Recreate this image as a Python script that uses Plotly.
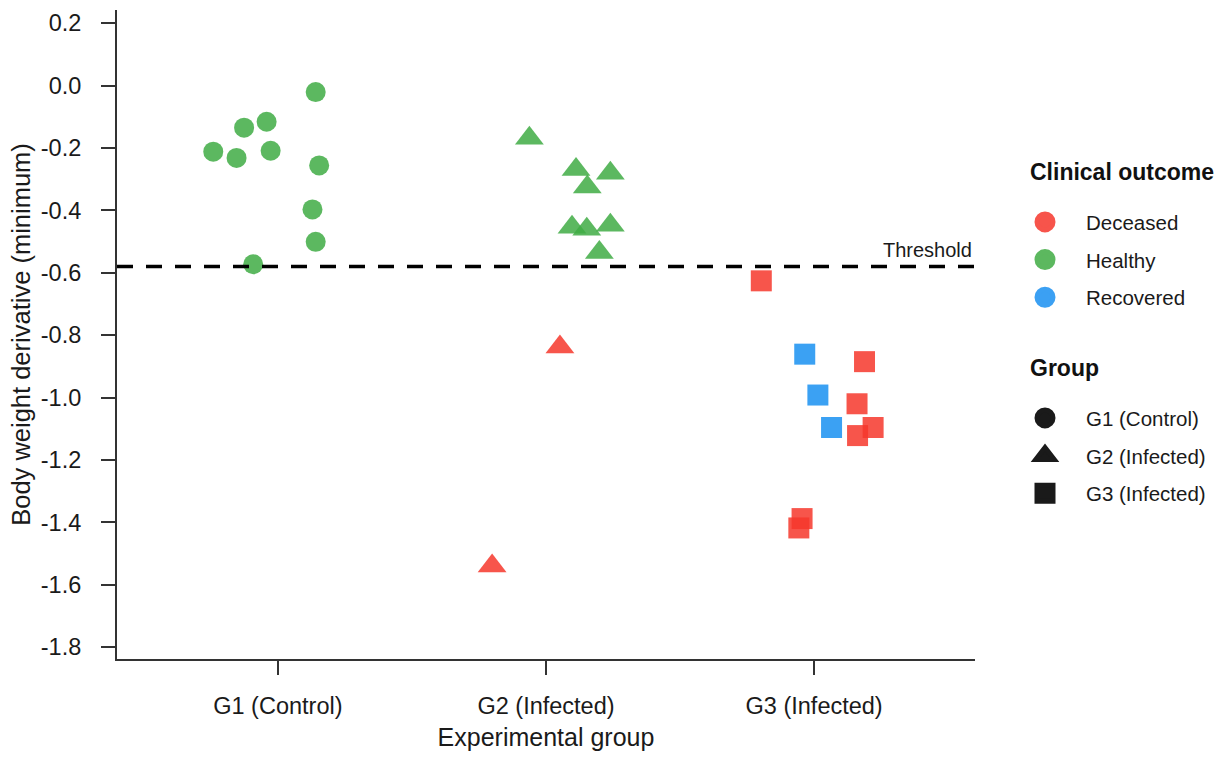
import plotly.graph_objects as go

# ---------------- data ----------------
groups = ["G1 (Control)", "G2 (Infected)", "G3 (Infected)"]
outcomes = ["Deceased", "Healthy", "Recovered"]
colors = {"Deceased": "rgb(246,55,44)", "Healthy": "rgb(64,172,68)", "Recovered": "rgb(25,144,241)"}
symbols = {"G1 (Control)": "circle", "G2 (Infected)": "triangle-up", "G3 (Infected)": "square"}

# G1 (Control)
g1_jitter = [-0.241, -0.154, -0.126, -0.042, -0.027, 0.141, 0.154, 0.129, 0.141, -0.092]
g1_value = [-0.212, -0.232, -0.135, -0.116, -0.209, -0.021, -0.256, -0.397, -0.501, -0.573]
g1_outcome = ["Healthy"] * 10

# G2 (Infected)
g2_jitter = [-0.062, 0.112, 0.154, 0.240, 0.097, 0.152, 0.240, 0.199, 0.052, -0.201]
g2_value = [-0.169, -0.269, -0.325, -0.281, -0.454, -0.461, -0.448, -0.535, -0.838, -1.540]
g2_outcome = ["Healthy"] * 8 + ["Deceased", "Deceased"]

# G3 (Infected)
g3_jitter = [-0.197, -0.035, 0.188, 0.014, 0.160, 0.065, 0.220, 0.162, -0.045, -0.057]
g3_value = [-0.626, -0.861, -0.885, -0.992, -1.020, -1.096, -1.096, -1.122, -1.388, -1.418]
g3_outcome = ["Deceased", "Recovered", "Deceased", "Recovered", "Deceased",
              "Recovered", "Deceased", "Deceased", "Deceased", "Deceased"]

threshold = -0.58

group_data = [
    (g1_jitter, g1_value, g1_outcome),
    (g2_jitter, g2_value, g2_outcome),
    (g3_jitter, g3_value, g3_outcome),
]

FONT = "Liberation Sans, Arial, sans-serif"
AXIS_COLOR = "#333333"
TEXT_COLOR = "#1a1a1a"
OPACITY = 0.85
marker_sizes = {"circle": 20, "triangle-up": 25, "square": 21}

fig = go.Figure()

for gi, (g, (jit, vals, outs)) in enumerate(zip(groups, group_data)):
    for oc in outcomes:
        xs = [gi + j for j, o in zip(jit, outs) if o == oc]
        ys = [v for v, o in zip(vals, outs) if o == oc]
        if not xs:
            continue
        fig.add_trace(go.Scatter(
            x=xs, y=ys, mode="markers", showlegend=False,
            marker=dict(symbol=symbols[g], size=marker_sizes[symbols[g]],
                        color=colors[oc], opacity=OPACITY, line=dict(width=0)),
            hoverinfo="skip",
        ))

# threshold line
fig.add_hline(y=threshold, line=dict(color="black", width=3.5, dash="16px,13px"))
fig.add_annotation(x=1, xref="paper", y=threshold, yref="y", text="Threshold",
                   showarrow=False, xanchor="right", yanchor="bottom", yshift=3, xshift=-1,
                   font=dict(family=FONT, size=20, color=TEXT_COLOR))

# legend entries: clinical outcome
for i, oc in enumerate(outcomes):
    fig.add_trace(go.Scatter(
        x=[None], y=[None], mode="markers", name=oc, legend="legend",
        legendgroup="oc" + str(i),
        marker=dict(symbol="circle", size=16, color=colors[oc], opacity=OPACITY,
                    line=dict(width=5, color=colors[oc])),
    ))
# legend entries: group
for i, g in enumerate(groups):
    fig.add_trace(go.Scatter(
        x=[None], y=[None], mode="markers", name=g, legend="legend2",
        legendgroup="g" + str(i),
        marker=dict(symbol=symbols[g], size=16, color="#1a1a1a",
                    line=dict(width=5, color="#1a1a1a")),
    ))

legend_common = dict(
    xanchor="left", yanchor="top", bgcolor="rgba(0,0,0,0)",
    font=dict(family=FONT, size=20.5, color=TEXT_COLOR),
    tracegroupgap=8, itemclick=False, itemdoubleclick=False, itemwidth=72,
)

# legend titles
fig.add_annotation(x=1.0618, xref="paper", y=0.7504, yref="paper", text="<b>Clinical outcome</b>",
                   showarrow=False, xanchor="left", yanchor="middle",
                   font=dict(family=FONT, size=23, color="#111"))
fig.add_annotation(x=1.0618, xref="paper", y=0.4484, yref="paper", text="<b>Group</b>",
                   showarrow=False, xanchor="left", yanchor="middle",
                   font=dict(family=FONT, size=23, color="#111"))

fig.update_layout(
    width=1224, height=758,
    margin=dict(l=117, r=249, t=10, b=99, autoexpand=False),
    paper_bgcolor="white", plot_bgcolor="white",
    font=dict(family=FONT, size=22, color=TEXT_COLOR),
    xaxis=dict(
        range=[-0.6, 2.6], tickmode="array", tickvals=[0, 1, 2], ticktext=groups,
        showline=True, linecolor=AXIS_COLOR, linewidth=2, mirror=False,
        ticks="outside", ticklen=14, tickwidth=2, tickcolor=AXIS_COLOR,
        showgrid=False, zeroline=False, ticklabelstandoff=11,
        tickfont=dict(family=FONT, size=23.5, color=TEXT_COLOR),
        title=dict(text="Experimental group", standoff=10,
                   font=dict(family=FONT, size=25, color=TEXT_COLOR)),
        automargin=False,
    ),
    yaxis=dict(
        range=[-1.838, 0.242], tickmode="array",
        tickvals=[0.2, 0.0, -0.2, -0.4, -0.6, -0.8, -1.0, -1.2, -1.4, -1.6, -1.8],
        ticktext=["0.2", "0.0", "-0.2", "-0.4", "-0.6", "-0.8", "-1.0", "-1.2", "-1.4", "-1.6", "-1.8"],
        showline=True, linecolor=AXIS_COLOR, linewidth=2,
        ticks="outside", ticklen=14, tickwidth=2, tickcolor=AXIS_COLOR,
        showgrid=False, zeroline=False, ticklabelstandoff=15,
        tickfont=dict(family=FONT, size=23.5, color=TEXT_COLOR),
        title=dict(text="Body weight derivative (minimum)", standoff=3,
                   font=dict(family=FONT, size=25.5, color=TEXT_COLOR)),
        automargin=False,
    ),
    legend=dict(x=1.0338, y=0.704, **legend_common),
    legend2=dict(x=1.0338, y=0.402, **legend_common),
)

fig.write_html("out.html")
